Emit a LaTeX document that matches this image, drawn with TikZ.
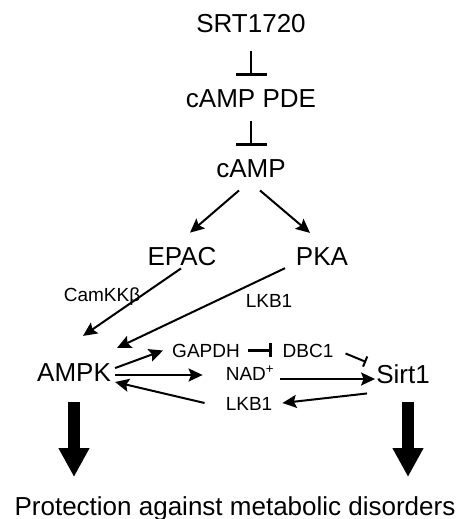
\documentclass[tikz,border=0pt]{standalone}
\usepackage{fontspec}
\setmainfont{Liberation Sans}
\usetikzlibrary{arrows.meta}

\begin{document}
\begin{tikzpicture}[x=1pt,y=-1pt,
  every node/.style={inner sep=0pt,anchor=base},
  big/.style={font=\fontsize{26}{30}\selectfont},
  small/.style={font=\fontsize{19}{22}\selectfont},
  arr/.style={line width=2pt,-{Stealth[length=14pt,width=13pt,inset=2.5pt]}},
  inh/.style={line width=2pt,-{Bar[width=31pt,line width=3pt]}},
  fat/.style={line width=12pt,-{Triangle[length=29pt,width=29pt]}}]
\useasboundingbox (0,0) rectangle (465,519);
% nodes
\node[big] (srt) at (251,33) {SRT1720};
\node[big] (pde) at (251,107) {cAMP PDE};
\node[big] (camp) at (251,177) {cAMP};
\node[big] (epac) at (182,265) {EPAC};
\node[big] (pka) at (322,265) {PKA};
\node[small] (camkk) at (102,301) {CamKKβ};
\node[small] (lkbt) at (269,307) {LKB1};
\node[big] (ampk) at (74,381) {AMPK};
\node[big] (sirt) at (403,383) {Sirt1};
\node[small] (gapdh) at (206,357) {GAPDH};
\node[small] (dbc) at (308,357) {DBC1};
\node[small] (nad) at (250,380) {NAD\textsuperscript{+}};
\node[small] (lkbb) at (249,410) {LKB1};
\node[big] (prot) at (235,515) {Protection against metabolic disorders};
\coordinate (ltip) at (74,477);
\coordinate (rtip) at (408,477);
% inhibition
\draw[inh,shorten <=18pt,shorten >=13pt] (srt) -- (pde);
\draw[inh,shorten <=14pt,shorten >=13pt] (pde) -- (camp);
\draw[line width=3pt,-{Bar[width=14pt,line width=3pt]}] ([shift={(8,0)}]gapdh.east) -- ([shift={(-10,0)}]dbc.west);
\draw[line width=2pt,-{Bar[width=11pt,line width=2pt]}] ([shift={(12,3)}]dbc.east) -- ([shift={(-10,-2)}]sirt.north west);
% activation
\draw[arr] ([shift={(-12,13)}]camp.south) -- ([shift={(8,-14)}]epac.north);
\draw[arr] ([shift={(9,13)}]camp.south) -- ([shift={(-12,-14)}]pka.north);
\draw[arr] ([shift={(-1,3)}]epac.south) -- ([shift={(9,-27)}]ampk.north);
\draw[arr] ([shift={(-37,3)}]pka.south) -- ([shift={(6,-15)}]ampk.north east);
\draw[arr] ([shift={(4,-4)}]ampk.east) -- ([shift={(-9,0)}]gapdh.west);
\draw[arr] ([shift={(4,-6)}]ampk.base east) -- ([shift={(-23,-5)}]nad.base west);
\draw[arr] ([shift={(6,-1)}]nad.base east) -- ([shift={(-1,-4)}]sirt.base west);
\draw[arr] ([shift={(-36,10)}]sirt.south) -- ([shift={(10,-7)}]lkbb.base east);
\draw[arr] ([shift={(-21,-7)}]lkbb.base west) -- ([shift={(4,1)}]ampk.base east);
% outcome
\draw[fat] ([shift={(0,21)}]ampk.south) -- (ltip);
\draw[fat] ([shift={(5,19)}]sirt.south) -- (rtip);
\end{tikzpicture}
\end{document}
